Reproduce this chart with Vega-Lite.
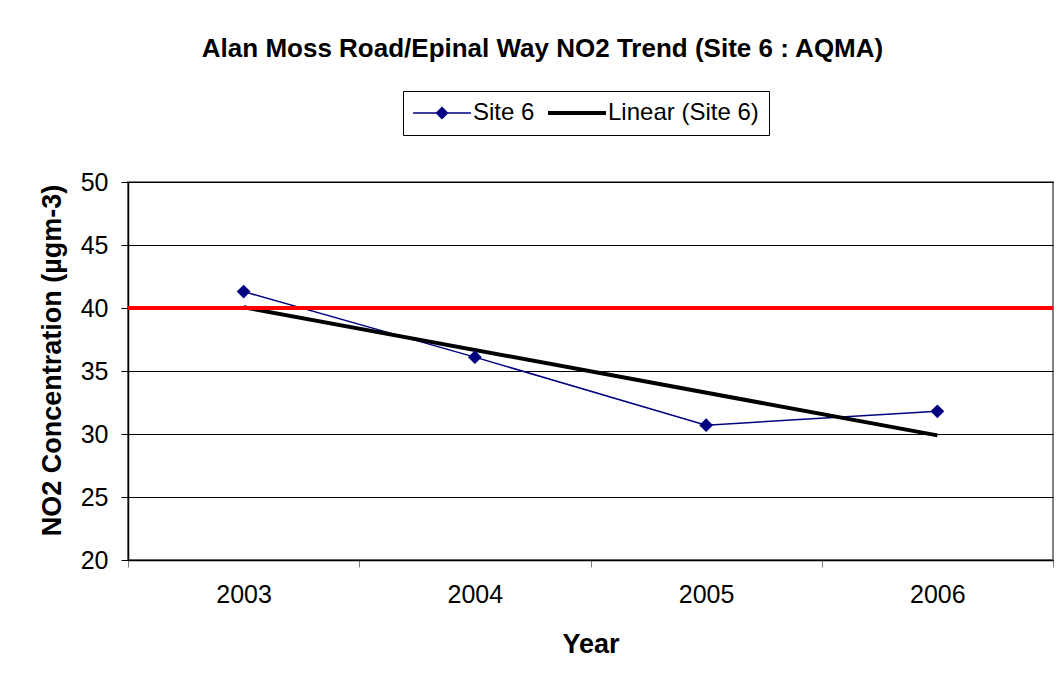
{
  "$schema": "https://vega.github.io/schema/vega-lite/v6.json",
  "autosize": "none",
  "width": 925,
  "height": 378,
  "padding": {"left": 128, "top": 182, "right": 4, "bottom": 121},
  "background": "white",
  "config": {
    "font": "Liberation Sans",
    "view": {"stroke": "#808080", "strokeWidth": 2}
  },
  "title": {
    "text": "Alan Moss Road/Epinal Way NO2 Trend (Site 6 : AQMA)",
    "font": "Liberation Sans",
    "fontSize": 26,
    "fontWeight": "bold",
    "color": "black",
    "anchor": "middle",
    "frame": "group",
    "dx": -48,
    "dy": 2,
    "baseline": "alphabetic",
    "offset": 10
  },
  "datasets": {
    "main": [
      {"year": "2003", "value": 41.3, "series": "Site 6"},
      {"year": "2004", "value": 36.1, "series": "Site 6"},
      {"year": "2005", "value": 30.7, "series": "Site 6"},
      {"year": "2006", "value": 31.8, "series": "Site 6"},
      {"year": "2003", "value": 40.06, "series": "Linear (Site 6)"},
      {"year": "2006", "value": 29.89, "series": "Linear (Site 6)"}
    ],
    "limit": [{"objective": 40}]
  },
  "layer": [
    {
      "data": {"name": "main"},
      "mark": {"type": "line", "clip": false},
      "encoding": {
        "x": {
          "field": "year", "type": "ordinal",
          "scale": {"type": "band", "domain": ["2003", "2004", "2005", "2006"], "paddingInner": 0, "paddingOuter": 0},
          "axis": {
            "title": "Year",
            "titleFont": "Liberation Sans", "titleFontSize": 27, "titleFontWeight": "bold", "titleColor": "black",
            "titleBaseline": "alphabetic", "titleY": 92,
            "labelFont": "Liberation Sans", "labelFontSize": 25, "labelColor": "black", "labelPadding": 15,
            "labelAngle": 0,
            "tickBand": "extent", "tickSize": 7, "tickColor": "#808080", "tickWidth": 1,
            "domainColor": "black", "domainWidth": 1.5, "grid": false
          }
        },
        "y": {
          "field": "value", "type": "quantitative",
          "scale": {"domain": [20, 50], "nice": false, "zero": false},
          "axis": {
            "title": "NO2 Concentration (µgm-3)",
            "titleFont": "Liberation Sans", "titleFontSize": 27, "titleFontWeight": "bold", "titleColor": "black",
            "titleAngle": 270, "titleAlign": "center", "titleBaseline": "alphabetic",
            "titleX": -68, "titleY": 178,
            "values": [20, 25, 30, 35, 40, 45, 50],
            "labelFont": "Liberation Sans", "labelFontSize": 25, "labelColor": "black", "labelPadding": 13,
            "tickSize": 7, "tickColor": "black", "domainColor": "black", "domainWidth": 1.5,
            "grid": true, "gridColor": "black", "gridWidth": 1, "gridOpacity": 1
          }
        },
        "color": {
          "field": "series", "type": "nominal",
          "scale": {"domain": ["Site 6", "Linear (Site 6)"], "range": ["#000080", "#000000"]},
          "legend": {
            "orient": "none", "legendX": 275, "legendY": -91, "direction": "horizontal", "title": null,
            "strokeColor": "black", "padding": 10,
            "labelFont": "Liberation Sans", "labelFontSize": 24, "labelColor": "black", "labelBaseline": "middle",
            "symbolSize": 210, "symbolOffset": 17, "labelOffset": 19, "columnPadding": 5,
            "symbolType": "M-4,0H4",
            "encode": {
              "symbols": {
                "update": {
                  "shape": {"signal": "datum.value === 'Site 6' ? 'M-4,0H4M0,-0.75L0.75,0L0,0.75L-0.75,0Z' : 'M-4,0H4'"},
                  "strokeWidth": {"signal": "datum.value === 'Site 6' ? 1.5 : 4"},
                  "fill": {"signal": "datum.value === 'Site 6' ? '#000080' : 'transparent'"},
                  "stroke": {"signal": "datum.value === 'Site 6' ? '#000080' : '#000000'"},
                  "opacity": {"value": 1}
                }
              }
            }
          }
        },
        "strokeWidth": {
          "field": "series", "type": "nominal",
          "scale": {"domain": ["Site 6", "Linear (Site 6)"], "range": [1.5, 4]},
          "legend": null
        },
        "order": {"field": "year"}
      }
    },
    {
      "data": {"name": "main"},
      "transform": [{"filter": "datum.series === 'Site 6'"}],
      "mark": {"type": "point", "shape": "diamond", "filled": true, "size": 190, "color": "#000080", "opacity": 1},
      "encoding": {
        "x": {"field": "year", "type": "ordinal"},
        "y": {"field": "value", "type": "quantitative"}
      }
    },
    {
      "data": {"name": "limit"},
      "mark": {"type": "rule", "color": "#ff0000", "strokeWidth": 4},
      "encoding": {
        "y": {"field": "objective", "type": "quantitative"}
      }
    }
  ]
}
